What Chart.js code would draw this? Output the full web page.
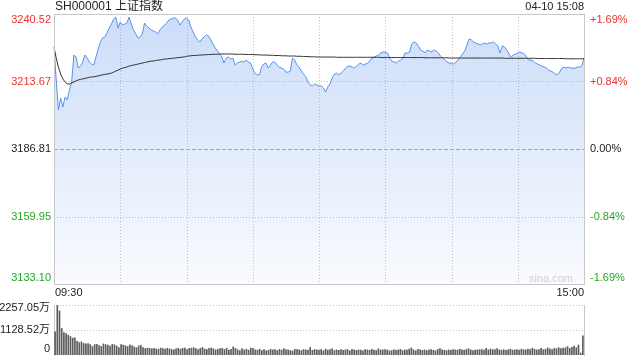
<!DOCTYPE html>
<html>
<head>
<meta charset="utf-8">
<script src="https://cdn.jsdelivr.net/npm/chart.js@4.4.1/dist/chart.umd.min.js"></script>
<style>
    html, body { margin: 0; padding: 0; background: #fff; }
    #wrap { position: relative; width: 640px; height: 360px; }
    #priceChart { position: absolute; left: 0; top: 0; }
    #volChart { position: absolute; left: 0; top: 300px; }
</style>
</head>
<body>
<div id="wrap">
    <canvas id="priceChart" width="640" height="300"></canvas>
    <canvas id="volChart" width="640" height="60"></canvas>
</div>
<script>
// Cabeçalho
const title = 'SH000001 上证指数';
const stamp = '04-10 15:08';

// Eixos
const priceTicks = [3240.52, 3213.67, 3186.81, 3159.95, 3133.10];
const pctTicks = ['+1.69%', '+0.84%', '0.00%', '-0.84%', '-1.69%'];
const volTicks = [2257.05, 1128.52, 0];
const volTickLabels = ['2257.05万', '1128.52万', '0'];
const timeTicks = ['09:30', '15:00'];
const gridMinutes = [30, 60, 90, 120, 150, 180, 210];

// Minutos do pregão (09:30-11:30, 13:01-15:00)
const times = [];
const fmt = m => String(Math.floor(m / 60)).padStart(2, '0') + ':' + String(m % 60).padStart(2, '0');
for (let m = 570; m <= 690; m++) times.push(fmt(m));
for (let m = 781; m <= 900; m++) times.push(fmt(m));

// Preço por minuto
const priceVals = [
    3227.4,3214.3,3202.3,3207.1,3203.5,3207.5,3206.3,3210.3,3213.5,3224.2,
    3223.4,3219.0,3219.8,3221.4,3224.2,3223.0,3221.4,3220.6,3220.2,3223.4,
    3226.6,3229.4,3231.0,3231.4,3233.0,3234.9,3236.5,3238.5,3239.3,3234.9,
    3237.3,3236.1,3236.5,3236.9,3239.3,3236.5,3234.2,3232.6,3231.0,3231.4,
    3232.6,3236.9,3235.7,3234.9,3234.2,3233.8,3233.4,3232.6,3234.2,3235.3,
    3236.1,3236.9,3238.1,3238.5,3238.9,3238.9,3238.1,3236.1,3237.3,3238.5,
    3238.9,3238.1,3235.3,3233.4,3231.4,3230.2,3229.4,3230.6,3231.4,3232.2,
    3231.8,3230.2,3228.6,3227.0,3225.8,3224.6,3223.4,3221.0,3223.0,3223.4,
    3222.6,3223.0,3220.2,3221.0,3221.4,3221.8,3221.4,3222.2,3221.4,3221.0,
    3218.6,3217.0,3216.3,3216.3,3219.4,3220.6,3221.0,3219.0,3220.2,3221.4,
    3221.4,3220.2,3219.4,3219.0,3218.6,3217.4,3217.4,3217.8,3223.0,3222.2,
    3220.2,3219.4,3217.8,3216.6,3215.5,3213.5,3212.3,3211.9,3212.7,3212.3,
    3211.9,3211.9,3211.1,3209.5,3211.5,3212.7,3215.1,3216.6,3217.0,3216.3,
    3217.0,3217.8,3219.0,3219.8,3219.8,3219.4,3219.0,3219.8,3220.6,3221.0,
    3220.2,3220.6,3221.0,3221.8,3223.0,3223.4,3223.8,3224.2,3225.0,3225.4,
    3225.4,3225.0,3223.0,3221.8,3221.4,3221.0,3221.8,3222.2,3223.0,3225.0,
    3225.0,3225.4,3228.6,3229.4,3229.0,3227.8,3226.2,3225.8,3225.0,3226.2,
    3225.8,3225.4,3226.2,3225.8,3225.0,3223.8,3223.0,3222.2,3221.4,3221.0,
    3221.0,3220.6,3221.4,3222.2,3223.4,3224.6,3225.8,3228.2,3230.6,3230.2,
    3229.4,3229.0,3228.6,3228.2,3228.6,3229.0,3228.6,3229.0,3229.0,3229.4,
    3228.6,3227.8,3225.0,3227.8,3227.4,3226.2,3224.6,3223.4,3224.2,3224.6,
    3225.0,3225.4,3225.0,3224.6,3223.4,3222.2,3222.2,3221.8,3221.0,3220.6,
    3220.2,3219.8,3219.4,3219.0,3218.2,3217.8,3217.4,3216.6,3216.3,3217.4,
    3219.0,3219.4,3219.0,3219.4,3219.0,3219.0,3219.0,3219.4,3219.4,3219.8,
    3223.0
];

// Preço médio
const avgVals = [
    3227.4,3223.0,3219.4,3216.6,3214.7,3213.5,3212.7,3212.7,3213.1,3213.5,
    3213.9,3214.3,3214.5,3214.7,3214.9,3215.1,3215.3,3215.5,3215.5,3215.7,
    3215.9,3216.1,3216.3,3216.5,3216.6,3216.8,3217.0,3217.4,3217.8,3218.2,
    3218.6,3219.0,3219.2,3219.4,3219.8,3220.0,3220.2,3220.4,3220.6,3220.8,
    3221.0,3221.2,3221.4,3221.6,3221.8,3221.8,3222.0,3222.2,3222.2,3222.4,
    3222.6,3222.6,3222.8,3222.8,3223.0,3223.0,3223.2,3223.2,3223.4,3223.4,
    3223.7,3223.8,3223.9,3224.0,3224.0,3224.1,3224.2,3224.2,3224.3,3224.3,
    3224.4,3224.4,3224.5,3224.5,3224.5,3224.6,3224.6,3224.6,3224.6,3224.6,
    3224.6,3224.6,3224.5,3224.5,3224.5,3224.5,3224.5,3224.4,3224.4,3224.4,
    3224.4,3224.3,3224.3,3224.3,3224.2,3224.2,3224.2,3224.1,3224.1,3224.1,
    3224.0,3224.0,3224.0,3223.9,3223.9,3223.9,3223.8,3223.8,3223.8,3223.8,
    3223.7,3223.7,3223.7,3223.6,3223.6,3223.6,3223.5,3223.5,3223.5,3223.4,
    3223.4,3223.4,3223.4,3223.4,3223.4,3223.4,3223.4,3223.4,3223.3,3223.3,
    3223.3,3223.3,3223.3,3223.3,3223.3,3223.3,3223.3,3223.3,3223.3,3223.3,
    3223.3,3223.3,3223.3,3223.3,3223.3,3223.3,3223.3,3223.3,3223.2,3223.2,
    3223.2,3223.2,3223.2,3223.2,3223.2,3223.2,3223.2,3223.2,3223.2,3223.2,
    3223.2,3223.2,3223.2,3223.2,3223.2,3223.2,3223.2,3223.2,3223.1,3223.1,
    3223.1,3223.1,3223.1,3223.1,3223.1,3223.1,3223.1,3223.1,3223.1,3223.0,
    3223.0,3223.0,3223.0,3223.0,3223.0,3223.0,3223.0,3223.0,3223.0,3223.0,
    3223.0,3223.0,3223.0,3223.0,3223.0,3223.0,3223.0,3223.0,3223.0,3223.0,
    3223.0,3223.0,3223.0,3223.0,3222.9,3222.9,3222.9,3222.9,3222.9,3222.9,
    3222.9,3222.9,3222.9,3222.9,3222.9,3222.9,3222.9,3222.9,3222.9,3222.8,
    3222.8,3222.8,3222.8,3222.8,3222.8,3222.8,3222.8,3222.8,3222.8,3222.8,
    3222.8,3222.8,3222.7,3222.7,3222.7,3222.7,3222.7,3222.7,3222.7,3222.7,
    3222.7
];

// Volume (万)
const volVals = [
    1050,2257,1990,1200,1010,970,900,830,760,770,
    620,560,590,520,500,510,470,380,470,480,
    430,390,500,470,450,400,480,460,410,330,
    470,450,420,380,460,420,360,330,410,440,
    330,290,310,300,280,300,270,260,310,290,
    270,300,280,250,230,280,300,260,300,310,
    250,300,310,330,290,240,300,340,270,250,
    300,320,280,230,260,290,300,250,310,220,
    260,370,300,240,200,290,230,260,220,310,
    300,230,220,260,200,240,190,210,260,230,
    240,200,250,220,290,250,230,200,180,260,
    240,230,200,250,230,220,340,210,250,230,
    220,250,190,270,220,240,280,200,230,210,
    240,210,230,250,190,260,230,210,230,220,
    190,250,230,210,260,220,200,280,230,230,
    250,230,190,200,240,210,230,260,200,230,
    220,270,320,230,190,260,230,210,230,200,
    230,250,210,190,250,290,230,210,200,230,
    210,240,230,220,260,230,210,250,280,230,
    200,220,230,240,250,220,300,230,270,240,
    250,290,230,220,240,210,230,260,220,230,
    250,220,260,240,230,270,250,310,260,230,
    250,300,240,260,320,280,250,300,280,330,
    290,310,320,380,300,350,400,330,450,90,
    870
];

const FONT = '"Liberation Sans", Arial, "Noto Sans CJK SC", sans-serif';
const RED = '#f0302c';
const GREEN = '#22a822';
const TEXT = '#222';

function hline(ctx, x1, x2, y) {
    ctx.beginPath(); ctx.moveTo(x1, y); ctx.lineTo(x2, y); ctx.stroke();
}
function vline(ctx, x, y1, y2) {
    ctx.beginPath(); ctx.moveTo(x, y1); ctx.lineTo(x, y2); ctx.stroke();
}

// Grade, bordas e textos do gráfico de preço
const priceDecor = {
    id: 'priceDecor',
    beforeDatasetsDraw(chart) {
        const { ctx, chartArea: a, scales: { x, y } } = chart;
        ctx.save();
        ctx.lineWidth = 1;
        ctx.strokeStyle = '#c4c4c4';
        ctx.setLineDash([1, 2]);
        gridMinutes.forEach(i => {
            const px = Math.round(x.getPixelForValue(i)) + 0.5;
            vline(ctx, px, a.top, a.bottom);
        });
        priceTicks.forEach((v, k) => {
            if (k === 0 || k === priceTicks.length - 1) return;
            const py = Math.round(y.getPixelForValue(v)) + 0.5;
            if (k === 2) {
                ctx.strokeStyle = '#b0b0b0';
                ctx.setLineDash([4, 2]);
            } else {
                ctx.strokeStyle = '#c4c4c4';
                ctx.setLineDash([1, 2]);
            }
            hline(ctx, a.left, a.right, py);
        });
        ctx.restore();
    },
    afterDraw(chart) {
        const { ctx, chartArea: a, scales: { y } } = chart;
        ctx.save();
        // borda
        ctx.strokeStyle = '#c8c8c8';
        ctx.lineWidth = 1;
        ctx.setLineDash([]);
        ctx.strokeRect(Math.round(a.left) + 0.5, Math.round(a.top) + 0.5,
            Math.round(a.right - a.left), Math.round(a.bottom - a.top));

        ctx.font = '11px ' + FONT;
        ctx.textBaseline = 'middle';
        priceTicks.forEach((v, k) => {
            let py = y.getPixelForValue(v);
            if (k === 0) py += 6;
            if (k === priceTicks.length - 1) py -= 6;
            const col = k < 2 ? RED : (k === 2 ? TEXT : GREEN);
            ctx.fillStyle = col;
            ctx.textAlign = 'right';
            ctx.fillText(v.toFixed(2), a.left - 3, py);
            ctx.textAlign = 'left';
            ctx.fillText(pctTicks[k], a.right + 6, py);
        });

        // horários
        ctx.fillStyle = TEXT;
        ctx.textAlign = 'left';
        ctx.fillText(timeTicks[0], a.left + 1, a.bottom + 9);
        ctx.textAlign = 'right';
        ctx.fillText(timeTicks[1], a.right, a.bottom + 9);

        // marca d'água
        ctx.fillStyle = '#cfcfcf';
        ctx.fillText('sina.com', a.right - 11, a.bottom - 5);

        // cabeçalho
        ctx.fillStyle = TEXT;
        ctx.textAlign = 'right';
        ctx.fillText(stamp, a.right, 7);
        ctx.font = '12px ' + FONT;
        ctx.textAlign = 'left';
        ctx.fillText(title, a.left + 1, 7);
        ctx.restore();
    }
};

// Grade e textos do volume
const volDecor = {
    id: 'volDecor',
    beforeDatasetsDraw(chart) {
        const { ctx, chartArea: a, scales: { y } } = chart;
        ctx.save();
        ctx.lineWidth = 1;
        ctx.strokeStyle = '#c4c4c4';
        ctx.setLineDash([1, 2]);
        volTicks.slice(0, 2).forEach(v => {
            const py = Math.round(y.getPixelForValue(v)) + 0.5;
            hline(ctx, a.left, a.right, py);
        });
        ctx.setLineDash([]);
        ctx.strokeStyle = '#c8c8c8';
        vline(ctx, Math.round(a.left) + 0.5, a.top, a.bottom + 1);
        vline(ctx, Math.round(a.right) + 0.5, a.top, a.bottom + 1);
        ctx.restore();
    },
    afterDraw(chart) {
        const { ctx, chartArea: a, scales: { y } } = chart;
        ctx.save();
        ctx.font = '11px ' + FONT;
        ctx.textBaseline = 'middle';
        ctx.textAlign = 'right';
        ctx.fillStyle = TEXT;
        volTicks.forEach((v, k) => {
            let py = y.getPixelForValue(v);
            if (k === 0) py += 3;
            if (k === volTicks.length - 1) py -= 6;
            ctx.fillText(volTickLabels[k], a.left - 4, py);
        });
        ctx.restore();
    }
};

const priceChart = new Chart(document.getElementById('priceChart'), {
    type: 'line',
    data: {
        labels: times,
        datasets: [{
            label: 'avg',
            data: avgVals,
            borderColor: '#333333',
            borderWidth: 1,
            pointRadius: 0,
            fill: false
        }, {
            label: 'price',
            data: priceVals,
            borderColor: '#5a92ec',
            borderWidth: 1,
            pointRadius: 0,
            fill: 'start',
            backgroundColor: function (c) {
                const area = c.chart.chartArea;
                if (!area) return 'rgba(0,0,0,0)';
                const g = c.chart.ctx.createLinearGradient(0, area.top, 0, area.bottom);
                g.addColorStop(0, 'rgba(66,128,232,0.27)');
                g.addColorStop(1, 'rgba(66,128,232,0.03)');
                return g;
            }
        }]
    },
    options: {
        responsive: false,
        animation: false,
        devicePixelRatio: 1,
        layout: { padding: { left: 54, right: 56, top: 14, bottom: 16 } },
        plugins: { legend: { display: false }, tooltip: { enabled: false } },
        scales: {
            x: { display: false },
            y: { display: false, min: priceTicks[priceTicks.length - 1], max: priceTicks[0] }
        }
    },
    plugins: [priceDecor]
});

const volChart = new Chart(document.getElementById('volChart'), {
    type: 'bar',
    data: {
        labels: times,
        datasets: [{
            data: volVals,
            backgroundColor: '#5c5c5c',
            barThickness: 1
        }]
    },
    options: {
        responsive: false,
        animation: false,
        devicePixelRatio: 1,
        layout: { padding: { left: 54, right: 56, top: 5, bottom: 5 } },
        plugins: { legend: { display: false }, tooltip: { enabled: false } },
        scales: {
            x: { display: false, offset: true },
            y: { display: false, min: 0, max: volTicks[0] }
        }
    },
    plugins: [volDecor]
});
</script>
</body>
</html>
